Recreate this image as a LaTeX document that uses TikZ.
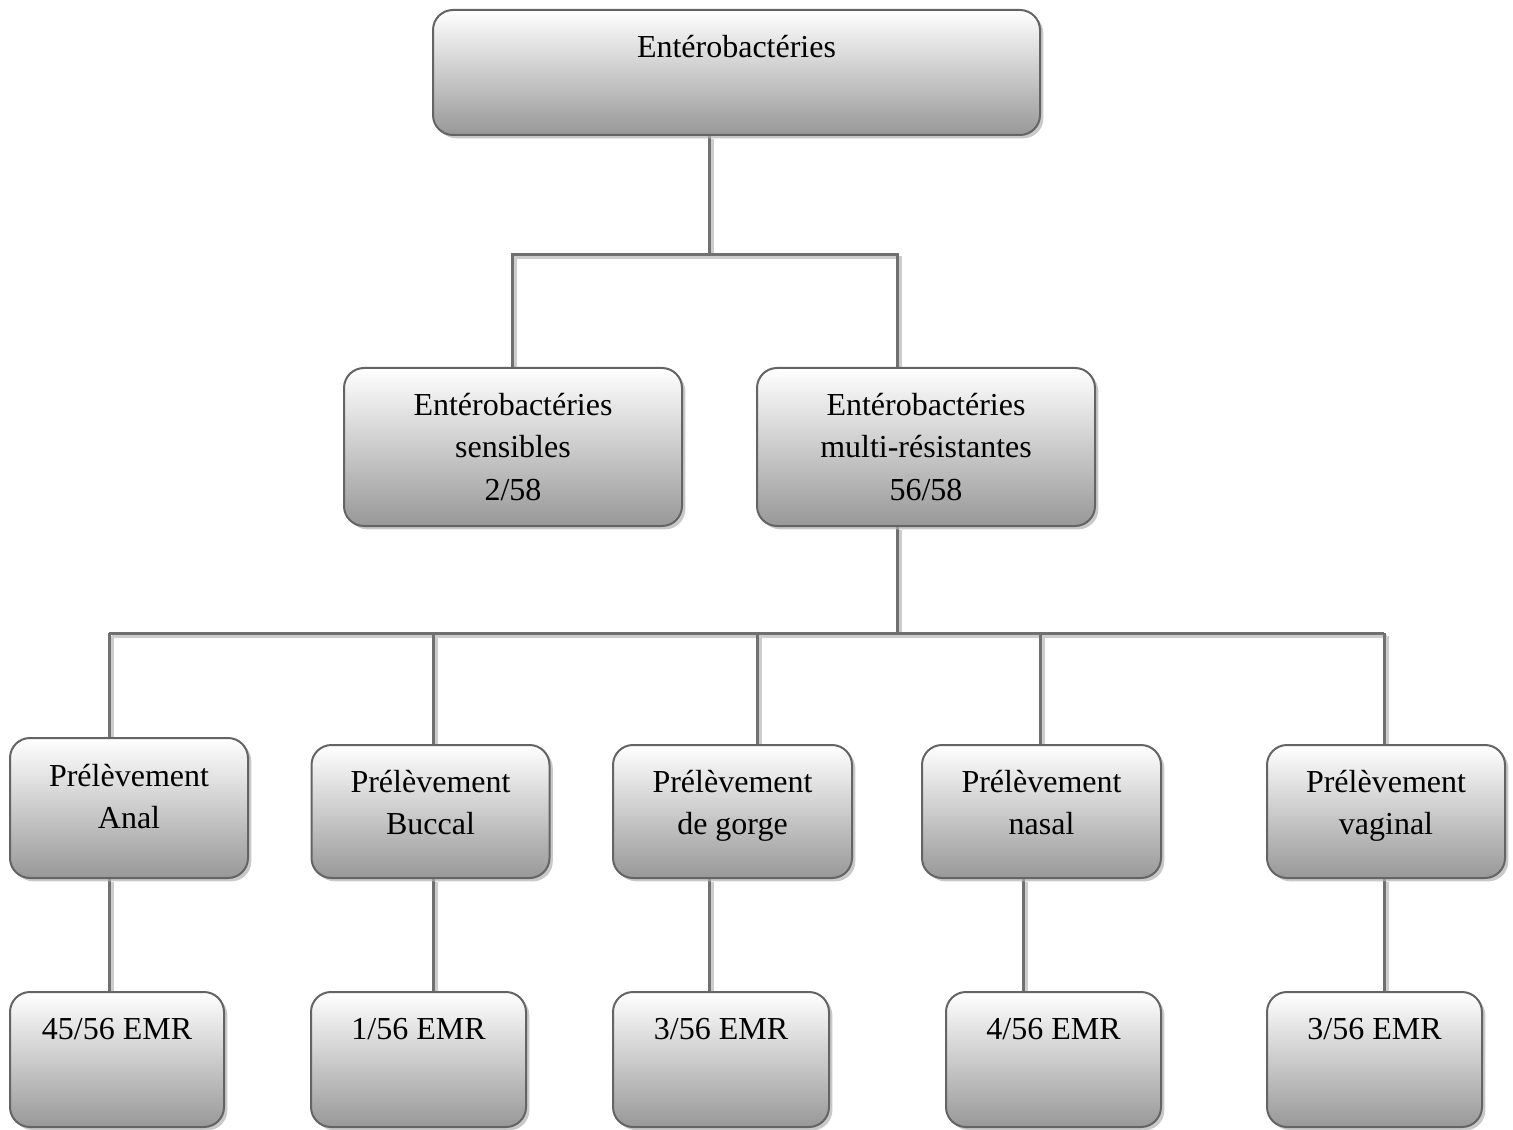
\documentclass[tikz,border=0pt]{standalone}
\usepackage{fontspec}
\setmainfont{Liberation Serif}
\usetikzlibrary{shadows}
\pgfdeclarelayer{back}
\pgfsetlayers{back,main}
\definecolor{edgegray}{RGB}{100,100,100}
\definecolor{linkgray}{RGB}{112,112,112}
\definecolor{linkshade}{RGB}{205,205,205}
\definecolor{boxbottom}{RGB}{152,152,152}
\newcommand{\lines}[1]{\begin{tabular}[t]{@{}c@{}}#1\end{tabular}}

\begin{document}
\begin{tikzpicture}[x=0.75pt,y=-0.75pt,
  box/.style={rectangle, rounded corners=15pt, draw=edgegray, line width=1.5pt,
    top color=white, bottom color=boxbottom, inner sep=0pt,
    drop shadow={shadow xshift=2.5pt, shadow yshift=-2.5pt, fill=black!30, opacity=0.7}},
  txt/.style={anchor=base, inner sep=0pt, font=\fontsize{24}{31.5}\selectfont},
  link/.style={draw=linkgray, line width=2.25pt},
  linkshadow/.style={draw=linkshade, line width=2.25pt, transform canvas={shift={(2.25pt,-2.25pt)}}}
]
\useasboundingbox (0,0) rectangle (1513,1130);

% level 0
\node[box, minimum width=607*0.75pt, minimum height=125*0.75pt] (top) at (736.5,72.5) {};
\node[txt] (ttop) at (736.5,58) {\lines{Entérobactéries}};

% level 1
\node[box, minimum width=338*0.75pt, minimum height=158*0.75pt] (sens) at (513,447) {};
\node[txt] (tsens) at (513,416) {\lines{Entérobactéries\\sensibles\\2/58}};
\node[box, minimum width=338*0.75pt, minimum height=158*0.75pt] (mr) at (926,447) {};
\node[txt] (tmr) at (926,416) {\lines{Entérobactéries\\multi-résistantes\\56/58}};

% level 2: sampling sites
\node[box, minimum width=238*0.75pt, minimum height=140*0.75pt] (p1) at (129,808) {};
\node[txt] (tp1) at (129,786) {\lines{Prélèvement\\Anal}};
\node[box, minimum width=238*0.75pt, minimum height=133*0.75pt] (p2) at (430.5,811.5) {};
\node[txt] (tp2) at (430.5,792) {\lines{Prélèvement\\Buccal}};
\node[box, minimum width=239*0.75pt, minimum height=133*0.75pt] (p3) at (732.5,811.5) {};
\node[txt] (tp3) at (732.5,792) {\lines{Prélèvement\\de gorge}};
\node[box, minimum width=239*0.75pt, minimum height=133*0.75pt] (p4) at (1041.5,811.5) {};
\node[txt] (tp4) at (1041.5,792) {\lines{Prélèvement\\nasal}};
\node[box, minimum width=238*0.75pt, minimum height=133*0.75pt] (p5) at (1386,811.5) {};
\node[txt] (tp5) at (1386,792) {\lines{Prélèvement\\vaginal}};

% level 3: counts
\node[box, minimum width=214*0.75pt, minimum height=135*0.75pt] (r1) at (117,1059.5) {};
\node[txt] (tr1) at (117,1039) {\lines{45/56 EMR}};
\node[box, minimum width=215*0.75pt, minimum height=135*0.75pt] (r2) at (418.5,1059.5) {};
\node[txt] (tr2) at (418.5,1039) {\lines{1/56 EMR}};
\node[box, minimum width=216*0.75pt, minimum height=135*0.75pt] (r3) at (721,1059.5) {};
\node[txt] (tr3) at (721,1039) {\lines{3/56 EMR}};
\node[box, minimum width=215*0.75pt, minimum height=135*0.75pt] (r4) at (1053.5,1059.5) {};
\node[txt] (tr4) at (1053.5,1039) {\lines{4/56 EMR}};
\node[box, minimum width=215*0.75pt, minimum height=135*0.75pt] (r5) at (1374.5,1059.5) {};
\node[txt] (tr5) at (1374.5,1039) {\lines{3/56 EMR}};

% junction points
\coordinate (j0) at (709,255);
\coordinate (c1) at (512,255);
\coordinate (c2) at (897,255);
\coordinate (d0) at (897,633);
\coordinate (d1) at (109,633);
\coordinate (d2) at (433,633);
\coordinate (d3) at (757,633);
\coordinate (d4) at (1040,633);
\coordinate (d5) at (1384,633);
\coordinate (e1) at (109,935);
\coordinate (e2) at (433,935);
\coordinate (e3) at (709,935);
\coordinate (e4) at (1023,935);
\coordinate (e5) at (1384,935);

\begin{pgfonlayer}{back}
\foreach \st in {linkshadow,link}{
  \draw[\st] (top.south -| j0) -- (j0);
  \draw[\st] (sens.north -| c1) -- (c1) -- (c2) -- (mr.north -| c2);
  \draw[\st] (mr.south -| d0) -- (d0);
  \draw[\st] (d1) -- (d5);
  \foreach \i in {1,...,5}{
    \draw[\st] (d\i) -- (p\i.north -| d\i);
    \draw[\st] (p\i.south -| e\i) -- (r\i.north -| e\i);
  }
}
\end{pgfonlayer}
\end{tikzpicture}
\end{document}
